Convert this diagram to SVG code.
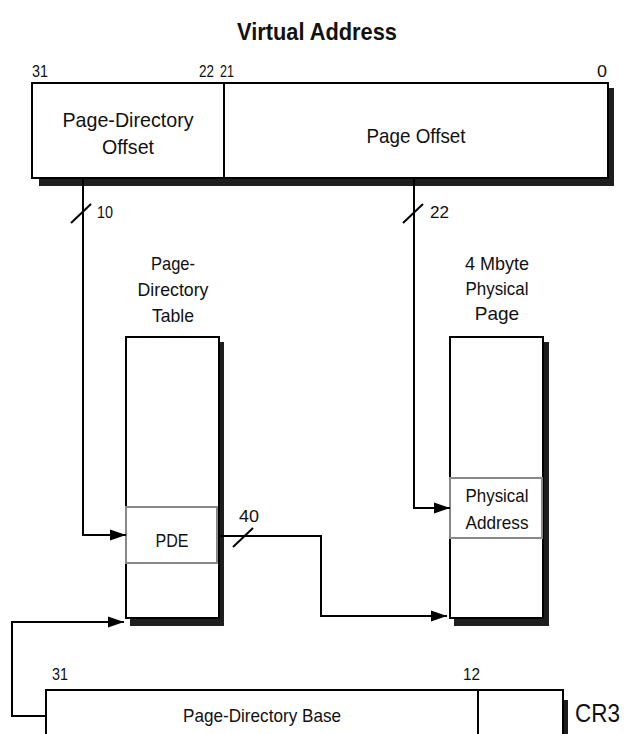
<svg xmlns="http://www.w3.org/2000/svg" width="625" height="734" viewBox="0 0 625 734">
<style>
text{font-family:"Liberation Sans",Arial,sans-serif;fill:#111;}
.t{font-size:21px;text-anchor:middle;}
.s{font-size:19px;text-anchor:middle;}
.n{font-size:17px;}
.box{fill:#fff;stroke:#000;stroke-width:2;}
.gbox{fill:#fff;stroke:#888;stroke-width:2;}
.sh{fill:#1e1e1e;}
.ln{fill:none;stroke:#000;stroke-width:2;}
</style>
<defs>
<marker id="ah" markerWidth="17" markerHeight="12" refX="16" refY="6" orient="auto" markerUnits="userSpaceOnUse">
<path d="M0,0.5 L16,6 L0,11.5 Z" fill="#000"/>
</marker>
</defs>
<text x="317" y="40" style="font-size:24px;font-weight:bold;text-anchor:middle" textLength="160" lengthAdjust="spacingAndGlyphs">Virtual Address</text>
<g id="virtual-address">
<rect class="sh" x="39" y="88" width="575" height="98"/>
<rect class="box" x="32" y="83" width="576" height="95"/>
<line class="ln" x1="224" y1="83" x2="224" y2="178"/>
<text class="n" x="32" y="77" textLength="16" lengthAdjust="spacingAndGlyphs">31</text>
<text class="n" x="199" y="77" textLength="15" lengthAdjust="spacingAndGlyphs">22</text>
<text class="n" x="220" y="77" textLength="14" lengthAdjust="spacingAndGlyphs">21</text>
<text class="n" x="597" y="77" textLength="10" lengthAdjust="spacingAndGlyphs">0</text>
<text class="t" x="128" y="127" textLength="131" lengthAdjust="spacingAndGlyphs">Page-Directory</text>
<text class="t" x="128" y="154" textLength="52" lengthAdjust="spacingAndGlyphs">Offset</text>
<text class="t" x="416" y="143" textLength="99" lengthAdjust="spacingAndGlyphs">Page Offset</text>
</g>
<g id="page-directory-table">
<text class="s" x="173" y="270" textLength="44" lengthAdjust="spacingAndGlyphs">Page-</text>
<text class="s" x="173" y="296" textLength="71" lengthAdjust="spacingAndGlyphs">Directory</text>
<text class="s" x="173" y="322" textLength="42" lengthAdjust="spacingAndGlyphs">Table</text>
<rect class="sh" x="130" y="342" width="94" height="284"/>
<rect class="box" x="126" y="337" width="93" height="281"/>
</g>
<g id="pde">
<rect class="gbox" x="126" y="507" width="91" height="56"/>
<text class="s" x="172" y="547" textLength="33" lengthAdjust="spacingAndGlyphs">PDE</text>
</g>
<g id="physical-page">
<text class="s" x="497" y="270" textLength="64" lengthAdjust="spacingAndGlyphs">4 Mbyte</text>
<text class="s" x="497" y="295" textLength="63" lengthAdjust="spacingAndGlyphs">Physical</text>
<text class="s" x="497" y="320">Page</text>
<rect class="sh" x="454" y="342" width="95" height="284"/>
<rect class="box" x="450" y="337" width="93" height="281"/>
</g>
<g id="physical-address">
<rect class="gbox" x="450" y="478" width="92" height="60"/>
<text class="s" x="497" y="502" textLength="63" lengthAdjust="spacingAndGlyphs">Physical</text>
<text class="s" x="497" y="529" textLength="63" lengthAdjust="spacingAndGlyphs">Address</text>
</g>
<g id="cr3">
<rect class="sh" x="50" y="700" width="518" height="40"/>
<rect class="box" x="46" y="690" width="517" height="50"/>
<line class="ln" x1="478" y1="690" x2="478" y2="734"/>
<text class="n" x="52" y="680" textLength="16" lengthAdjust="spacingAndGlyphs">31</text>
<text class="n" x="463" y="680" textLength="17" lengthAdjust="spacingAndGlyphs">12</text>
<text class="s" x="262" y="722" textLength="158" lengthAdjust="spacingAndGlyphs">Page-Directory Base</text>
<text x="575" y="722" style="font-size:25px" textLength="45" lengthAdjust="spacingAndGlyphs">CR3</text>
</g>
<g id="connectors">
<polyline class="ln" points="83,178 83,535 126,535" marker-end="url(#ah)"/>
<line class="ln" x1="71" y1="223" x2="91" y2="204"/>
<text class="n" x="97" y="218" textLength="16" lengthAdjust="spacingAndGlyphs">10</text>
<polyline class="ln" points="414,178 414,508 450,508" marker-end="url(#ah)"/>
<line class="ln" x1="403" y1="223" x2="423" y2="204"/>
<text class="n" x="430" y="218" textLength="19" lengthAdjust="spacingAndGlyphs">22</text>
<polyline class="ln" points="218,536 321,536 321,616 447,616" marker-end="url(#ah)"/>
<line class="ln" x1="233" y1="547" x2="253" y2="528"/>
<text class="n" x="239" y="522" textLength="20" lengthAdjust="spacingAndGlyphs">40</text>
<polyline class="ln" points="46,716 12,716 12,622 124,622" marker-end="url(#ah)"/>
</g>
</svg>
